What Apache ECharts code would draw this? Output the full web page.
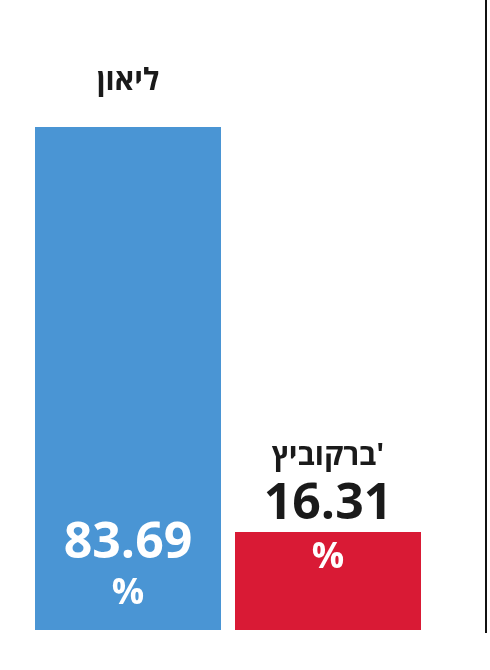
<!DOCTYPE html>
<html><head><meta charset="utf-8">
<script src="https://cdn.jsdelivr.net/npm/echarts@6/dist/echarts.min.js"></script>
<style>html,body{margin:0;background:#fff}#c{width:490px;height:670px}</style>
</head><body><div id="c"></div>
<script>
const categories = ["ליאון", "ברקוביץ'"];
const values = [83.69, 16.31];
const colors = ['#4a95d4', '#d91a35'];
const F = '"Open Sans","DejaVu Sans",sans-serif';
const chart = echarts.init(document.getElementById('c'));
const rich = {
  n:{fontFamily:F,fontWeight:'bold',fontSize:30,color:'#1a1a1a',lineHeight:40},
  v:{fontFamily:F,fontWeight:'bold',fontSize:50,color:'#1a1a1a',lineHeight:58},
  w:{fontFamily:F,fontWeight:'bold',fontSize:50,color:'#fff',lineHeight:56},
  p:{fontFamily:F,fontWeight:'bold',fontSize:36,color:'#fff',lineHeight:44}
};
chart.setOption({
  animation:false,
  grid:{left:28,right:62,top:29,bottom:40},
  xAxis:{type:'category',data:categories,show:false},
  yAxis:{type:'value',min:0,max:100,show:false},
  graphic:[{type:'line',shape:{x1:486,y1:0,x2:486,y2:633},style:{stroke:'#111',lineWidth:2}}],
  series:[
    {type:'bar',barWidth:186,
     data:values.map((v,i)=>({value:v,itemStyle:{color:colors[i]},
       label:{show:true,position:'top',rich,
         distance:i===0?26:-2,
         formatter:i===0?'{n|'+categories[i]+'}':'{n|'+categories[i]+'}\n{v|'+v.toFixed(2)+'}'}}))},
    {type:'bar',barWidth:186,barGap:'-100%',silent:true,
     data:values.map((v,i)=>({value:v,itemStyle:{color:'transparent'},
       label:{show:true,rich,
         position:i===0?'insideBottom':'insideTop',
         distance:i===0?14:4,
         formatter:i===0?'{w|'+v.toFixed(2)+'}\n{p|%}':'{p|%}'}}))}
  ]
});
</script></body></html>
